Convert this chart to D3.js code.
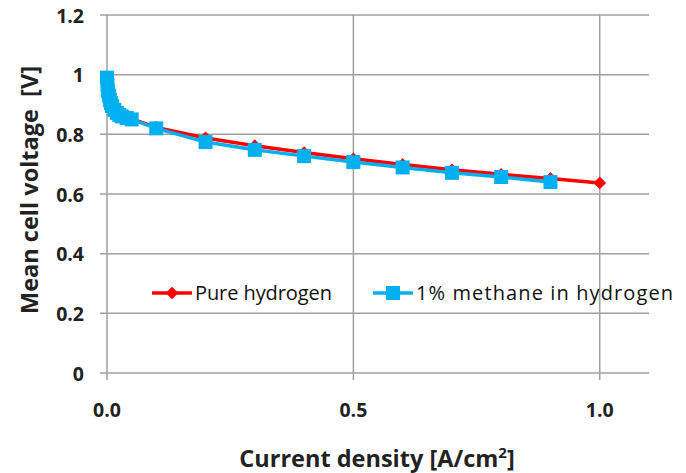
<!DOCTYPE html>
<html>
<head>
<meta charset="utf-8">
<script src="https://cdn.jsdelivr.net/npm/d3@7"></script>
<style>
  body { margin: 0; background: #fff; }
  text { font-family: "Open Sans", "Liberation Sans", sans-serif; }
</style>
</head>
<body>
<div id="chart"></div>
<script>
  var w = 686,
      h = 473;

  // current density [A/cm2] and mean cell voltage [V]
  var pureX = [0, 0.001, 0.002, 0.004, 0.006, 0.008, 0.01, 0.015, 0.02, 0.025, 0.03, 0.04, 0.05,
               0.1, 0.2, 0.3, 0.4, 0.5, 0.6, 0.7, 0.8, 0.9, 1.0];
  var pureY = [0.99, 0.97, 0.95, 0.935, 0.92, 0.91, 0.9, 0.885, 0.875, 0.868, 0.862, 0.857, 0.852,
               0.823, 0.788, 0.762, 0.739, 0.718, 0.699, 0.681, 0.666, 0.652, 0.637];

  var methX = [0, 0.001, 0.002, 0.004, 0.006, 0.008, 0.01, 0.015, 0.02, 0.025, 0.03, 0.04, 0.05,
               0.1, 0.2, 0.3, 0.4, 0.5, 0.6, 0.7, 0.8, 0.9];
  var methY = [0.99, 0.965, 0.945, 0.93, 0.915, 0.905, 0.895, 0.882, 0.872, 0.865, 0.86, 0.855, 0.85,
               0.82, 0.774, 0.748, 0.727, 0.707, 0.689, 0.671, 0.657, 0.64];

  var xTicks = [0, 0.5, 1.0],
      yTicks = [0, 0.2, 0.4, 0.6, 0.8, 1, 1.2];

  var legendNames = ["Pure hydrogen", "1% methane in hydrogen"];

  var red = "#FF0000", blue = "#00B0F0", grid = "#A0A0A0";

  var svg = d3.select("#chart").append("svg")
      .attr("width", w)
      .attr("height", h);

  var x = d3.scaleLinear().domain([0, 1.1]).range([107, 649]);
  var y = d3.scaleLinear().domain([0, 1.2]).range([373, 15]);

  // grid lines
  svg.selectAll(".hgrid").data(yTicks)
    .enter().append("line")
    .attr("x1", x(0) - 7).attr("x2", x(1.1))
    .attr("y1", function(d){ return y(d); })
    .attr("y2", function(d){ return y(d); })
    .attr("stroke", grid).attr("stroke-width", 1.5);

  svg.selectAll(".vgrid").data(xTicks)
    .enter().append("line")
    .attr("x1", function(d){ return x(d); })
    .attr("x2", function(d){ return x(d); })
    .attr("y1", y(1.2)).attr("y2", y(0) + 7)
    .attr("stroke", grid).attr("stroke-width", 1.5);

  // tick labels
  svg.selectAll(".ylab").data(yTicks)
    .enter().append("text")
    .attr("x", 84)
    .attr("y", function(d){ return y(d) + 7.5; })
    .attr("text-anchor", "end")
    .attr("font-size", 19.5)
    .attr("font-weight", "bold")
    .attr("fill", "#222")
    .text(function(d){ return d === 0 || d === 1 ? d : d3.format(".1f")(d); });

  svg.selectAll(".xlab").data(xTicks)
    .enter().append("text")
    .attr("x", function(d){ return x(d); })
    .attr("y", 417)
    .attr("text-anchor", "middle")
    .attr("font-size", 19.5)
    .attr("font-weight", "bold")
    .attr("fill", "#222")
    .text(d3.format(".1f"));

  // axis titles
  var xt = svg.append("text")
    .attr("x", 377).attr("y", 467)
    .attr("text-anchor", "middle")
    .attr("font-size", 23.5)
    .attr("font-weight", "bold")
    .attr("fill", "#222")
    .text("Current density [A/cm");
  xt.append("tspan").attr("dy", -9).attr("font-size", 15).text("2");
  xt.append("tspan").attr("dy", 9).text("]");

  svg.append("text")
    .attr("transform", "translate(38,190) rotate(-90)")
    .attr("text-anchor", "middle")
    .attr("font-size", 23.5)
    .attr("font-weight", "bold")
    .attr("fill", "#222")
    .attr("xml:space", "preserve")
    .text("Mean cell voltage  [V]");

  var line = d3.line()
    .x(function(d){ return x(d[0]); })
    .y(function(d){ return y(d[1]); });

  var pure = d3.zip(pureX, pureY),
      meth = d3.zip(methX, methY);

  // pure hydrogen
  svg.append("path").datum(pure)
    .attr("d", line)
    .attr("fill", "none").attr("stroke", red).attr("stroke-width", 3.5);
  svg.selectAll(".dia").data(pure)
    .enter().append("path")
    .attr("transform", function(d){ return "translate(" + x(d[0]) + "," + y(d[1]) + ") rotate(45)"; })
    .attr("d", "M-4.5,-4.5H4.5V4.5H-4.5Z")
    .attr("fill", red);

  // 1% methane
  svg.append("path").datum(meth)
    .attr("d", line)
    .attr("fill", "none").attr("stroke", blue).attr("stroke-width", 3.5);
  svg.selectAll(".sq").data(meth)
    .enter().append("rect")
    .attr("x", function(d){ return x(d[0]) - 7; })
    .attr("y", function(d){ return y(d[1]) - 7; })
    .attr("width", 14).attr("height", 14)
    .attr("fill", blue);

  // legend
  var lg = svg.append("g");
  var lx = [152, 373], ly = 293, lw = [137, 257];
  lg.selectAll(".ll").data(legendNames)
    .enter().append("line")
    .attr("x1", function(d, i){ return lx[i]; })
    .attr("x2", function(d, i){ return lx[i] + 40; })
    .attr("y1", ly).attr("y2", ly)
    .attr("stroke", function(d, i){ return i ? blue : red; })
    .attr("stroke-width", 3.5);
  lg.append("path")
    .attr("transform", "translate(" + (lx[0] + 20) + "," + ly + ") rotate(45)")
    .attr("d", "M-4.5,-4.5H4.5V4.5H-4.5Z")
    .attr("fill", red);
  lg.append("rect")
    .attr("x", lx[1] + 13).attr("y", ly - 7)
    .attr("width", 14).attr("height", 14)
    .attr("fill", blue);
  lg.selectAll(".lt").data(legendNames)
    .enter().append("text")
    .attr("x", function(d, i){ return lx[i] + 43; })
    .attr("y", ly + 7)
    .attr("font-size", 20)
    .attr("fill", "#111")
    .attr("textLength", function(d, i){ return lw[i]; })
    .attr("lengthAdjust", "spacing")
    .text(function(d){ return d; });
</script>
</body>
</html>
